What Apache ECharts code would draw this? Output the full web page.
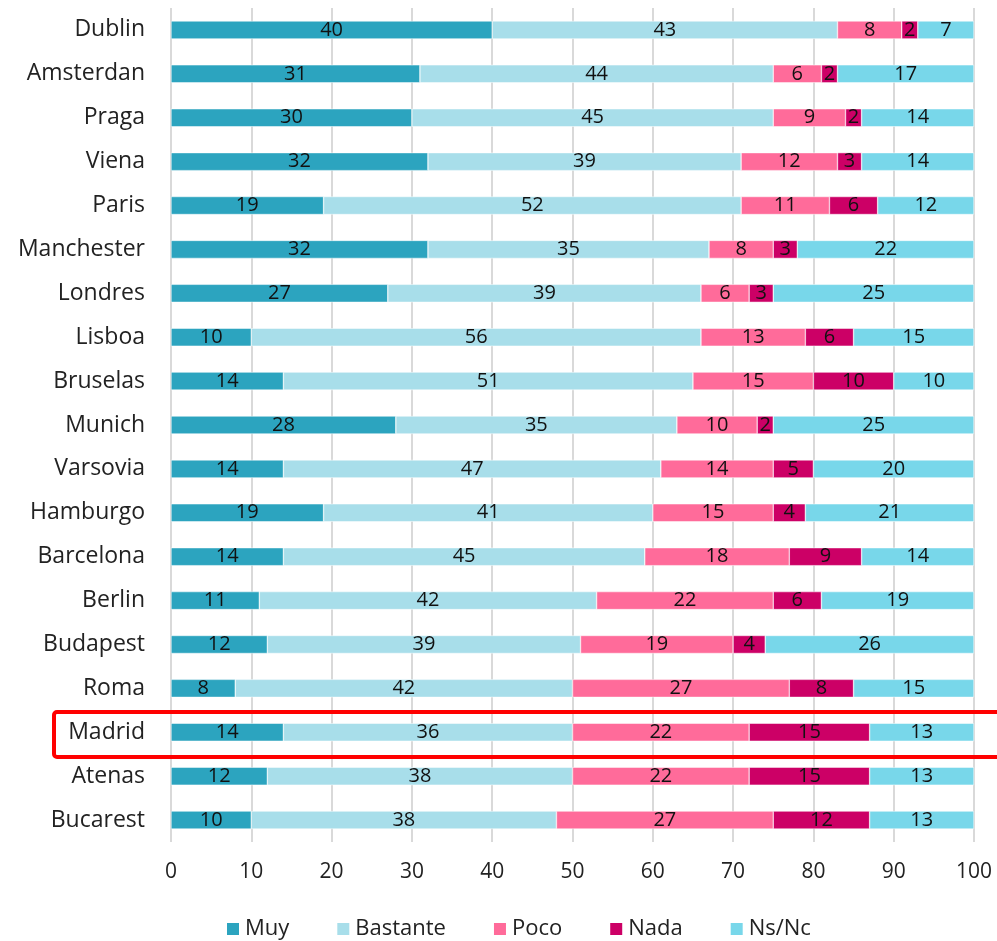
<!DOCTYPE html>
<html>
<head>
<meta charset="utf-8">
<script src="https://cdn.jsdelivr.net/npm/echarts@6/dist/echarts.min.js"></script>
<style>
  html, body { margin: 0; padding: 0; background: #fff; }
  #chart { width: 997px; height: 941px; }
</style>
</head>
<body>
<div id="chart"></div>
<script>
const cities   = ['Dublin', 'Amsterdan', 'Praga', 'Viena', 'Paris', 'Manchester', 'Londres', 'Lisboa', 'Bruselas', 'Munich',
                  'Varsovia', 'Hamburgo', 'Barcelona', 'Berlin', 'Budapest', 'Roma', 'Madrid', 'Atenas', 'Bucarest']
const muy      = [40, 31, 30, 32, 19, 32, 27, 10, 14, 28, 14, 19, 14, 11, 12,  8, 14, 12, 10]
const bastante = [43, 44, 45, 39, 52, 35, 39, 56, 51, 35, 47, 41, 45, 42, 39, 42, 36, 38, 38]
const poco     = [ 8,  6,  9, 12, 11,  8,  6, 13, 15, 10, 14, 15, 18, 22, 19, 27, 22, 22, 27]
const nada     = [ 2,  2,  2,  3,  6,  3,  3,  6, 10,  2,  5,  4,  9,  6,  4,  8, 15, 15, 12]
const nsnc     = [ 7, 17, 14, 14, 12, 22, 25, 15, 10, 25, 20, 21, 14, 19, 26, 15, 13, 13, 13]
const xTicks   = [0, 10, 20, 30, 40, 50, 60, 70, 80, 90, 100]

const FONT = '"Open Sans", sans-serif'

const seriesDefs = [
  { name: 'Muy',      data: muy,      color: '#2CA4BF' },
  { name: 'Bastante', data: bastante, color: '#A8DEEA' },
  { name: 'Poco',     data: poco,     color: '#FF6B9A' },
  { name: 'Nada',     data: nada,     color: '#CC0066' },
  { name: 'Ns/Nc',    data: nsnc,     color: '#78D7EA' },
]

const chart = echarts.init(document.getElementById('chart'))

chart.setOption({
  backgroundColor: '#fff',
  animation: false,
  grid: { left: 171, right: 23, top: 8, bottom: 99 },
  legend: {
    top: 913,
    left: 220,
    itemWidth: 14,
    itemHeight: 14,
    itemGap: 46,
    icon: 'rect',
    textStyle: { fontFamily: FONT, fontSize: 22, color: '#222' },
    data: seriesDefs.map(s => s.name),
  },
  xAxis: {
    type: 'value',
    min: 0,
    max: 100,
    interval: 10,
    axisLine: { show: false },
    axisTick: { show: false },
    axisLabel: { fontFamily: FONT, fontSize: 21, color: '#222', margin: 20,
                 formatter: v => xTicks.includes(v) ? String(v) : '' },
    splitLine: { lineStyle: { color: '#D9D9D9', width: 2 } },
  },
  yAxis: {
    type: 'category',
    data: cities,
    inverse: true,
    axisLine: { show: false },
    axisTick: { show: false },
    axisLabel: { fontFamily: FONT, fontSize: 23, color: '#222', margin: 26 },
  },
  series: seriesDefs.map(s => ({
    name: s.name,
    type: 'bar',
    stack: 'total',
    data: s.data,
    barWidth: 18,
    itemStyle: { color: s.color, borderColor: '#fff', borderWidth: 0.5 },
    label: {
      show: true,
      position: 'inside',
      fontFamily: FONT,
      fontSize: 20,
      color: '#111',
    },
  })),
  graphic: [{
    type: 'rect',
    shape: { x: 54, y: 712, width: 960, height: 45, r: 3 },
    style: { fill: 'none', stroke: '#FF0000', lineWidth: 4 },
    z: 100,
  }],
})
</script>
</body>
</html>
